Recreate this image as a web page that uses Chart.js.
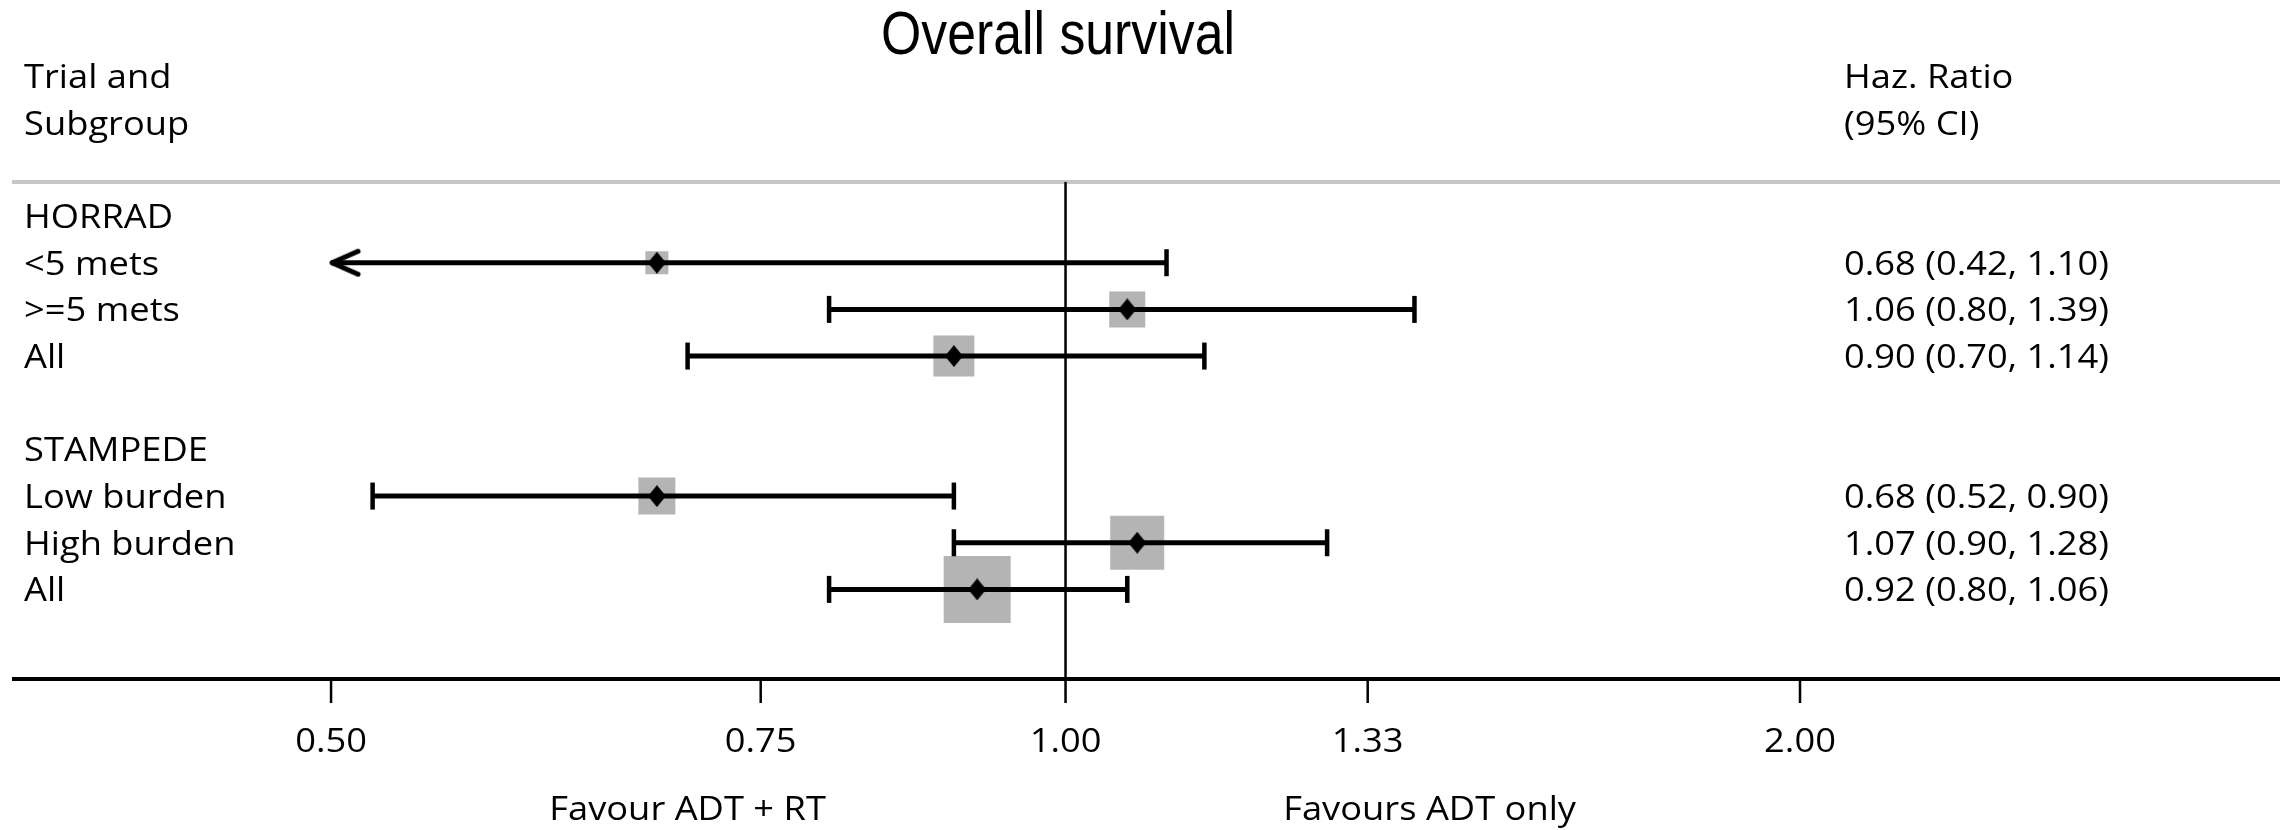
<!DOCTYPE html>
<html>
<head>
<meta charset="utf-8">
<title>Overall survival</title>
<script src="https://cdn.jsdelivr.net/npm/chart.js@4.4.1/dist/chart.umd.min.js"></script>
<style>
  html, body { margin: 0; padding: 0; background: #ffffff; }
  canvas { display: block; }
</style>
</head>
<body>
<canvas id="forest" width="2280" height="830"></canvas>
<script>
// ---- data -------------------------------------------------------------
const trialNames = ['HORRAD', 'STAMPEDE'];
const subgroupTrial = [0, 0, 0, 1, 1, 1];
const subgroupLabels = ['<5 mets', '>=5 mets', 'All', 'Low burden', 'High burden', 'All'];
const hazardRatio = [0.68, 1.06, 0.90, 0.68, 1.07, 0.92];
const ciLower = [0.42, 0.80, 0.70, 0.52, 0.90, 0.80];
const ciUpper = [1.10, 1.39, 1.14, 0.90, 1.28, 1.06];
const studyWeight = [11.8, 28.9, 37.4, 30.5, 65.0, 100.0];
const xTickValues = [0.50, 0.75, 1.00, 1.33, 2.00];
const headerLeft = ['Trial and', 'Subgroup'];
const headerRight = ['Haz. Ratio', '(95% CI)'];
const favourLabels = ['Favour ADT + RT', 'Favours ADT only'];
const favourAt = [0.70, 1.41];
const titleText = 'Overall survival';

// ---- styling ----------------------------------------------------------
const TEXT_FONT = '33px "Open Sans", "DejaVu Sans", sans-serif';
const TEXT_STRETCH = 1.1;
const TEXT_BASE_SHIFT = 12;
const TITLE_FONT = '62px "Liberation Sans", Arial, sans-serif';
const TITLE_STRETCH = 0.835;
const BOX_MAX_SIDE = 67;
const BOX_COLOR = '#b4b4b4';
const RULE_COLOR = '#c6c6c6';
const LEFT_TEXT_X = 24;
const RIGHT_TEXT_X = 1844;
const TITLE_X = 1058;
const TITLE_BASELINE = 54;

// ---- row layout: trial header, its subgroups, then a spacer row --------
const headerRows = [];
const subgroupRows = [];
let nextRow = 0;
trialNames.forEach((name, ti) => {
  headerRows.push(nextRow++);
  subgroupTrial.forEach((t, si) => { if (t === ti) subgroupRows[si] = nextRow++; });
  nextRow++;
});

const clipLow = xTickValues[0];
const clipHigh = xTickValues[xTickValues.length - 1];
const fmt = v => v.toFixed(2);

// ---- custom point glyphs ----------------------------------------------
function makeArrowHead() {
  const c = document.createElement('canvas');
  c.width = 68; c.height = 34;
  const g = c.getContext('2d');
  g.strokeStyle = '#000';
  g.lineWidth = 5;
  g.lineCap = 'round';
  g.lineJoin = 'round';
  g.beginPath();
  g.moveTo(34 + 27, 17 - 11.5);
  g.lineTo(34 + 1, 17);
  g.lineTo(34 + 27, 17 + 11.5);
  g.stroke();
  return c;
}
function makeDiamond() {
  const c = document.createElement('canvas');
  c.width = 18; c.height = 22;
  const g = c.getContext('2d');
  g.fillStyle = '#000';
  g.beginPath();
  g.moveTo(9, 0); g.lineTo(18, 11); g.lineTo(9, 22); g.lineTo(0, 11);
  g.closePath();
  g.fill();
  return c;
}
const arrowHead = makeArrowHead();
const diamond = makeDiamond();

// ---- datasets ---------------------------------------------------------
const boxData = hazardRatio.map((hr, i) => ({ x: hr, y: subgroupRows[i] }));
const boxRadius = studyWeight.map(w => BOX_MAX_SIDE * Math.sqrt(w / 100) / Math.SQRT2);

const ciDatasets = hazardRatio.map((hr, i) => ({
  label: 'CI ' + subgroupLabels[i],
  data: [
    { x: Math.max(ciLower[i], clipLow), y: subgroupRows[i] },
    { x: Math.min(ciUpper[i], clipHigh), y: subgroupRows[i] }
  ],
  showLine: true,
  borderColor: '#000',
  borderWidth: 5,
  pointRadius: 0,
  order: 2
}));

const capData = [];
const arrowData = [];
hazardRatio.forEach((hr, i) => {
  const y = subgroupRows[i];
  if (ciLower[i] >= clipLow) capData.push({ x: ciLower[i], y });
  else arrowData.push({ x: clipLow, y });
  if (ciUpper[i] <= clipHigh) capData.push({ x: ciUpper[i], y });
});

const datasets = [
  {
    label: 'Hazard ratio',
    data: boxData,
    pointStyle: diamond,
    pointRadius: 10,
    order: 0
  },
  {
    label: 'CI caps',
    data: capData,
    pointStyle: 'line',
    pointRotation: 90,
    pointRadius: 13.5,
    pointBorderWidth: 4.5,
    pointBorderColor: '#000',
    order: 1
  },
  {
    label: 'CI beyond axis',
    data: arrowData,
    pointStyle: arrowHead,
    pointRadius: 10,
    order: 1
  },
  ...ciDatasets,
  {
    label: 'Weight',
    data: boxData,
    pointStyle: 'rect',
    pointRadius: boxRadius,
    pointBackgroundColor: BOX_COLOR,
    pointBorderWidth: 0,
    order: 3
  }
];

// ---- text and frame ---------------------------------------------------
function drawText(ctx, text, x, y, align, font, stretch) {
  ctx.save();
  ctx.font = font;
  ctx.fillStyle = '#000';
  ctx.textAlign = align;
  ctx.textBaseline = 'alphabetic';
  ctx.translate(x, y);
  ctx.scale(stretch, 1);
  ctx.fillText(text, 0, 0);
  ctx.restore();
}
function segment(ctx, x1, y1, x2, y2) {
  ctx.beginPath();
  ctx.moveTo(x1, y1);
  ctx.lineTo(x2, y2);
  ctx.stroke();
}

const forestFrame = {
  id: 'forestFrame',
  beforeDatasetsDraw(chart) {
    const { ctx, chartArea: a, scales: { x } } = chart;
    ctx.save();
    ctx.lineCap = 'butt';
    ctx.strokeStyle = RULE_COLOR;
    ctx.lineWidth = 4;
    segment(ctx, a.left, a.top, a.right, a.top);
    const x1 = x.getPixelForValue(1);
    ctx.strokeStyle = '#000';
    ctx.lineWidth = 2.5;
    segment(ctx, x1, a.top, x1, a.bottom);
    ctx.restore();
  },
  afterDatasetsDraw(chart) {
    const { ctx, chartArea: a, scales: { x, y } } = chart;
    ctx.save();
    ctx.strokeStyle = '#000';
    ctx.lineWidth = 4;
    segment(ctx, a.left, a.bottom, a.right, a.bottom);
    ctx.lineWidth = 2.5;
    xTickValues.forEach(v => {
      const px = x.getPixelForValue(v);
      segment(ctx, px, a.bottom, px, a.bottom + 24);
      drawText(ctx, fmt(v), px, a.bottom + 73, 'center', TEXT_FONT, TEXT_STRETCH);
    });
    favourLabels.forEach((t, i) => {
      drawText(ctx, t, x.getPixelForValue(favourAt[i]), a.bottom + 141, 'center', TEXT_FONT, TEXT_STRETCH);
    });
    ctx.restore();

    const rowBase = r => y.getPixelForValue(r) + TEXT_BASE_SHIFT;
    headerLeft.forEach((t, i) => drawText(ctx, t, LEFT_TEXT_X, rowBase(i - headerLeft.length - 1), 'left', TEXT_FONT, TEXT_STRETCH));
    headerRight.forEach((t, i) => drawText(ctx, t, RIGHT_TEXT_X, rowBase(i - headerRight.length - 1), 'left', TEXT_FONT, TEXT_STRETCH));
    trialNames.forEach((t, i) => drawText(ctx, t, LEFT_TEXT_X, rowBase(headerRows[i]), 'left', TEXT_FONT, TEXT_STRETCH));
    subgroupLabels.forEach((t, i) => {
      drawText(ctx, t, LEFT_TEXT_X, rowBase(subgroupRows[i]), 'left', TEXT_FONT, TEXT_STRETCH);
      const est = fmt(hazardRatio[i]) + ' (' + fmt(ciLower[i]) + ', ' + fmt(ciUpper[i]) + ')';
      drawText(ctx, est, RIGHT_TEXT_X, rowBase(subgroupRows[i]), 'left', TEXT_FONT, TEXT_STRETCH);
    });
    drawText(ctx, titleText, TITLE_X, TITLE_BASELINE, 'center', TITLE_FONT, TITLE_STRETCH);
  }
};

new Chart(document.getElementById('forest'), {
  type: 'scatter',
  data: { datasets },
  options: {
    responsive: false,
    devicePixelRatio: 1,
    animation: false,
    events: [],
    layout: { autoPadding: false, padding: { left: 12, right: 0, top: 182, bottom: 151 } },
    plugins: {
      legend: { display: false },
      tooltip: { enabled: false },
      title: { display: false }
    },
    scales: {
      x: { type: 'logarithmic', min: 0.370, max: 3.146, bounds: 'data', display: false },
      y: { type: 'linear', min: -0.73, max: 9.92, reverse: true, bounds: 'data', display: false }
    }
  },
  plugins: [forestFrame]
});
</script>
</body>
</html>
